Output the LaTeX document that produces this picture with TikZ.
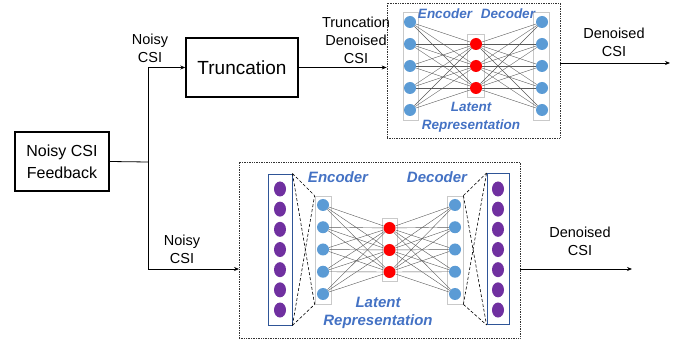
\documentclass[tikz,border=0pt]{standalone}
\usepackage{fontspec}
\setmainfont{Liberation Sans}
\usetikzlibrary{arrows.meta,positioning,calc,shapes.geometric}
\definecolor{nnblue}{HTML}{5B9BD5}
\definecolor{nnred}{HTML}{FF0000}
\definecolor{nnpurple}{HTML}{7030A0}
\definecolor{lblblue}{HTML}{4472C4}
\definecolor{colframe}{HTML}{2F5597}
\definecolor{laygray}{HTML}{C9C9C9}

\begin{document}
\begin{tikzpicture}[x=1pt,y=-1pt,>={Stealth[length=5pt,width=4pt]},
   font=\fontsize{14.5}{18}\selectfont,
   blk/.style={draw,line width=1.4pt,inner sep=0pt,align=center},
   lbl/.style={align=center,inner sep=0pt},
   nnlbl/.style={text=lblblue,inner sep=0pt,font=\fontsize{13.5}{17}\selectfont\bfseries\itshape},
   frame/.style={draw=black!80,densely dotted,line width=0.7pt,inner sep=0pt},
   lay/.style={draw=laygray,line width=0.8pt,fill=white,inner sep=0pt},
   col/.style={draw=colframe,line width=0.9pt,fill=white,inner sep=0pt},
   bn/.style={circle,fill=nnblue,minimum size=12pt,inner sep=0pt},
   rn/.style={circle,fill=nnred,minimum size=12pt,inner sep=0pt},
   pn/.style={ellipse,fill=nnpurple,minimum width=12pt,minimum height=15pt,inner sep=0pt},
   wire/.style={draw=black!65,line width=0.4pt},
   zoomln/.style={draw=black,densely dashed,line width=0.6pt},
   flow/.style={->,line width=0.8pt}]
  \useasboundingbox (0,0) rectangle (686,339);

  % input and truncation blocks
  \node[blk,minimum width=94pt,minimum height=59pt,font=\fontsize{16}{22}\selectfont] (fb) at (62,161.5) {Noisy CSI\\Feedback};
  \node[blk,minimum width=112pt,minimum height=59pt,font=\fontsize{19}{22}\selectfont] (trunc) at (242,67.5) {Truncation};

  % dotted frames round the two autoencoders
  \node[frame,minimum width=173pt,minimum height=135pt] (topnet) at (473.5,70.5) {};
  \node[frame,minimum width=281pt,minimum height=176pt] (botnet) at (379.5,250) {};

  % top autoencoder: layer boxes
  \node[lay,minimum width=15pt,minimum height=108pt] (tL) at (410.5,66) {};
  \node[lay,minimum width=17pt,minimum height=63pt] (tZ) at (475.5,65.5) {};
  \node[lay,minimum width=16pt,minimum height=108pt] (tR) at (541.5,66) {};
  \foreach \i in {1,...,5} {
    \node[bn] (ti\i) at (410,22+22*\i-22) {};
    \node[bn] (to\i) at (542,22+22*\i-22) {};
  }
  \foreach \j in {1,2,3}
    \node[rn] (tz\j) at (476,22+22*\j) {};
  \foreach \i in {1,...,5}
    \foreach \j in {1,2,3} {
      \draw[wire] (ti\i) -- (tz\j);
      \draw[wire] (tz\j) -- (to\i);
    }
  \node[nnlbl] (tenc) at (445,14) {Encoder};
  \node[nnlbl] (tdec) at (508,14) {Decoder};
  \node[nnlbl,align=center,font=\fontsize{13.5}{18}\selectfont\bfseries\itshape] (tlat) at (471,117) {Latent\\Representation};

  % bottom autoencoder: layer boxes and the two input/output columns
  \node[col,minimum width=24pt,minimum height=151pt] (bL) at (280,249.5) {};
  \node[lay,minimum width=16pt,minimum height=108pt] (bE) at (323,250) {};
  \node[lay,minimum width=15pt,minimum height=63pt] (bZ) at (389.5,249.5) {};
  \node[lay,minimum width=16pt,minimum height=108pt] (bD) at (455,250) {};
  \node[col,minimum width=22pt,minimum height=151pt] (bR) at (498,249) {};
  \foreach \i in {1,...,7} {
    \node[pn] (pl\i) at (280,189+20.17*\i-20.17) {};
    \node[pn] (pr\i) at (498,189+20.17*\i-20.17) {};
  }
  \foreach \i in {1,...,5} {
    \node[bn] (be\i) at (323,205+22.25*\i-22.25) {};
    \node[bn] (bd\i) at (455,205+22.25*\i-22.25) {};
  }
  \foreach \j in {1,2,3}
    \node[rn] (bz\j) at (389.5,206+22*\j) {};
  \foreach \i in {1,...,5}
    \foreach \j in {1,2,3} {
      \draw[wire] (be\i) -- (bz\j);
      \draw[wire] (bz\j) -- (bd\i);
    }
  % zoom lines between columns and layer boxes
  \draw[zoomln] (bL.north east) -- (bE.north west);
  \draw[zoomln] (bL.north east) -- (bE.south west);
  \draw[zoomln] (bL.south east) -- (bE.north west);
  \draw[zoomln] (bL.south east) -- (bE.south west);
  \draw[zoomln] (bD.north east) -- (bR.north west);
  \draw[zoomln] (bD.north east) -- (bR.south west);
  \draw[zoomln] (bD.south east) -- (bR.north west);
  \draw[zoomln] (bD.south east) -- (bR.south west);
  \node[nnlbl,font=\fontsize{15}{18}\selectfont\bfseries\itshape] (benc) at (338,177) {Encoder};
  \node[nnlbl,font=\fontsize{15}{18}\selectfont\bfseries\itshape] (bdec) at (437,177) {Decoder};
  \node[nnlbl,align=center,font=\fontsize{15}{18}\selectfont\bfseries\itshape] (blat) at (378,313) {Latent\\Representation};

  % signal flow
  \coordinate (split) at (148,162);
  \coordinate (botin) at (239,269);
  \coordinate (topout) at (670,63);
  \coordinate (botout) at (632,269);
  \draw[line width=0.8pt] (fb.east) -- (split);
  \draw[flow] (split) |- (trunc.west);
  \draw[flow] (split) |- (botin);
  \draw[flow] (trunc.east) -- (trunc.east -| topnet.west);
  \draw[flow] (topnet.east |- topout) -- (topout);
  \draw[flow] (botnet.east |- botout) -- (botout);

  % connector labels
  \node[lbl] (l1) at (150,48) {Noisy\\CSI};
  \node[lbl] (l2) at (356,40) {Truncation\\Denoised\\CSI};
  \node[lbl] (l3) at (614,42) {Denoised\\CSI};
  \node[lbl] (l4) at (182,249) {Noisy\\CSI};
  \node[lbl] (l5) at (580,241) {Denoised\\CSI};
\end{tikzpicture}
\end{document}
